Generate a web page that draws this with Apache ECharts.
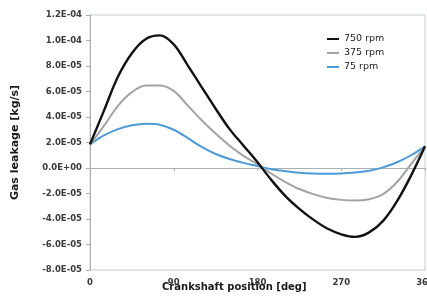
<!DOCTYPE html>
<html>
<head>
<meta charset="utf-8">
<script src="https://cdn.jsdelivr.net/npm/echarts@6/dist/echarts.min.js"></script>
<style>html,body{margin:0;padding:0;background:#fff}#c{width:427px;height:296px}</style>
</head>
<body>
<div id="c"></div>
<script>
var angles = [0,15,30,45,60,75,90,105,120,135,150,165,180,195,210,225,240,255,270,285,300,315,330,345,360];
var rpm750 = [1.85,4.5,7.15,9.0,10.12,10.4,9.7,8.05,6.35,4.65,3.05,1.75,0.45,-0.95,-2.2,-3.2,-4.05,-4.75,-5.2,-5.4,-5.05,-4.15,-2.6,-0.6,1.7];
var rpm375 = [1.85,3.3,4.88,5.95,6.48,6.48,6.05,4.9,3.75,2.7,1.75,0.95,0.3,-0.45,-1.1,-1.65,-2.05,-2.35,-2.5,-2.55,-2.45,-2.05,-1.1,0.3,1.7];
var rpm75 = [1.85,2.55,3.05,3.35,3.48,3.4,3.0,2.35,1.65,1.1,0.7,0.4,0.15,-0.1,-0.25,-0.37,-0.43,-0.45,-0.43,-0.35,-0.22,0.05,0.45,1.0,1.7];
var scale = 1e-5;
var seriesNames = ['750 rpm','375 rpm','75 rpm'];

function pairs(arr){ return angles.map(function(a,i){ return [a, arr[i]*scale]; }); }
function sci(v){
  var s = v.toExponential(1);
  var m = s.split('e');
  var exp = parseInt(m[1],10);
  var sign = exp < 0 ? '-' : '+';
  var e = Math.abs(exp);
  return m[0] + 'E' + sign + (e < 10 ? '0' + e : '' + e);
}
var font = 'DejaVu Sans';
var chart = echarts.init(document.getElementById('c'), null, {renderer:'canvas'});
chart.setOption({
  animation:false,
  backgroundColor:'#fff',
  grid:{left:90,right:2,top:15,bottom:26,show:true,borderColor:'#c8cdd0',borderWidth:1,outerBoundsMode:'none',containLabel:false},
  title:{text:'Crankshaft position [deg]',left:162,top:282,padding:0,textStyle:{fontFamily:font,fontWeight:'bold',fontSize:10,color:'#1a1a1a'}},
  legend:{orient:'vertical',left:327,top:34,padding:0,itemWidth:12,itemHeight:2,itemGap:4,icon:'rect',
    textStyle:{fontFamily:font,fontSize:9.5,color:'#222'},data:seriesNames},
  xAxis:{type:'value',min:0,max:360,interval:90,
    axisLine:{onZero:true,lineStyle:{color:'#a9b0b4',width:1}},
    axisTick:{show:true,length:3,lineStyle:{color:'#a9b0b4'}},
    splitLine:{show:false},
    axisLabel:{margin:8,fontFamily:font,fontWeight:'bold',fontSize:8.5,color:'#3a3a3a',
      formatter:function(v){return String(v);}}
  },
  yAxis:{type:'value',min:-8e-5,max:1.2e-4,interval:2e-5,
    name:'Gas leakage [kg/s]',nameLocation:'middle',nameGap:69,
    nameTextStyle:{fontFamily:font,fontWeight:'bold',fontSize:11,color:'#1a1a1a'},
    axisLine:{show:true,lineStyle:{color:'#a9b0b4',width:1}},
    axisTick:{show:true,length:4,lineStyle:{color:'#a9b0b4'}},
    splitLine:{show:false},
    axisLabel:{margin:8,fontFamily:font,fontWeight:'bold',fontSize:8.5,color:'#3a3a3a',formatter:sci}
  },
  series:[
    {name:seriesNames[0],type:'line',smooth:0.35,showSymbol:false,data:pairs(rpm750),
      lineStyle:{color:'#111111',width:2.4},itemStyle:{color:'#111111'},z:3},
    {name:seriesNames[1],type:'line',smooth:0.35,showSymbol:false,data:pairs(rpm375),
      lineStyle:{color:'#a3a3a3',width:2},itemStyle:{color:'#a3a3a3'},z:2},
    {name:seriesNames[2],type:'line',smooth:0.35,showSymbol:false,data:pairs(rpm75),
      lineStyle:{color:'#4d9ad6',width:2},itemStyle:{color:'#4d9ad6'},z:1}
  ]
});
</script>
</body>
</html>
